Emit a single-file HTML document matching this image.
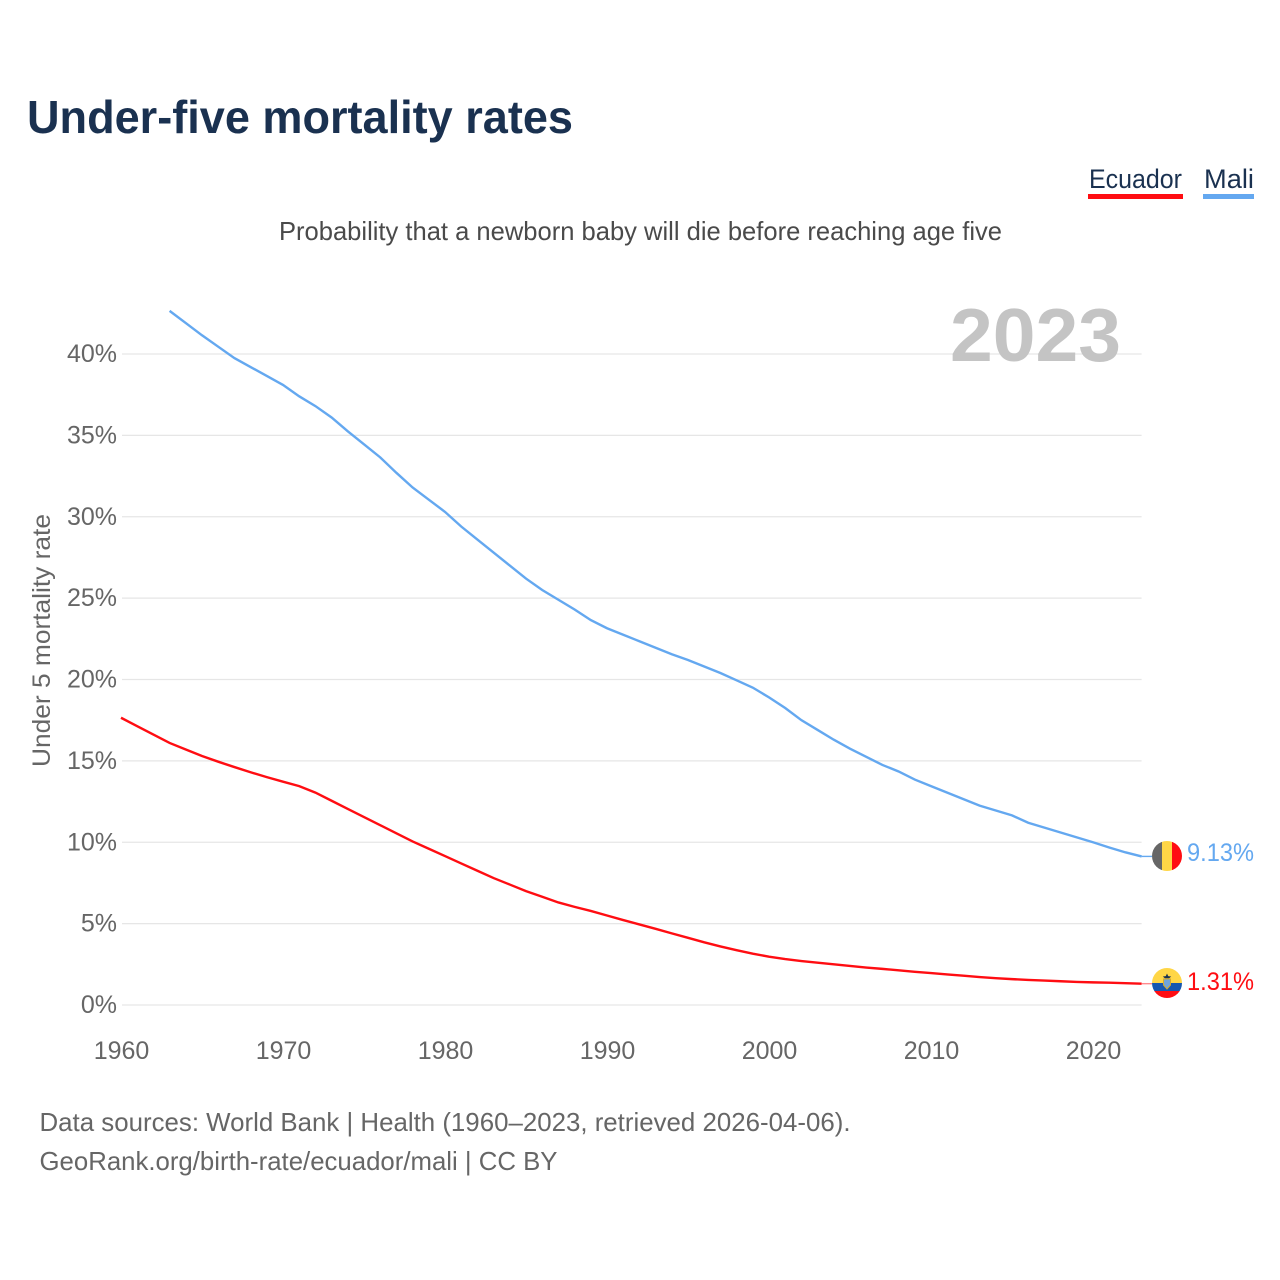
<!DOCTYPE html>
<html lang="en">
<head>
<meta charset="utf-8">
<title>Under-five mortality rates</title>
<style>
html,body{margin:0;padding:0;background:#fff;width:1280px;height:1280px;overflow:hidden}
svg{display:block}
text{font-family:"Liberation Sans",sans-serif}
</style>
</head>
<body>
<svg id="chart" xmlns="http://www.w3.org/2000/svg" width="1280" height="1280" viewBox="0 0 1280 1280">
  <rect width="1280" height="1280" fill="#ffffff"/>
  <text x="27" y="133" font-size="46" font-weight="700" fill="#1a3150" textLength="546" lengthAdjust="spacingAndGlyphs">Under-five mortality rates</text>
  <g>
    <text x="1089" y="188" font-size="27" fill="#1a3150" textLength="93" lengthAdjust="spacingAndGlyphs">Ecuador</text>
    <rect x="1088" y="194" width="95" height="5" fill="#ff0d12"/>
  </g>
  <g>
    <text x="1204" y="188" font-size="27" fill="#1a3150" textLength="50" lengthAdjust="spacingAndGlyphs">Mali</text>
    <rect x="1203" y="194" width="51" height="5" fill="#64a8f0"/>
  </g>
  <text x="279" y="240" font-size="26" fill="#4a4a4a" textLength="723" lengthAdjust="spacingAndGlyphs">Probability that a newborn baby will die before reaching age five</text>
  <g id="grid"></g>
  <text x="950" y="361" font-size="75" font-weight="700" fill="#c4c4c4" textLength="171" lengthAdjust="spacingAndGlyphs">2023</text>
  <g id="yticks"></g>
  <g id="xticks"></g>
  <text transform="translate(50,767) rotate(-90)" x="0" y="0" font-size="25" fill="#666666" textLength="253" lengthAdjust="spacingAndGlyphs">Under 5 mortality rate</text>
  <g id="series"></g>
  <defs>
    <clipPath id="flag-clip-mali"><circle id="clip-mali" cx="1167" cy="856" r="15"/></clipPath>
    <clipPath id="flag-clip-ecuador"><circle id="clip-ecuador" cx="1167" cy="983" r="15"/></clipPath>
  </defs>
  <g id="flag-mali">
    <g clip-path="url(#flag-clip-mali)">
      <rect x="1152" y="841" width="10" height="30" fill="#666666"/>
      <rect x="1162" y="841" width="10" height="30" fill="#ffd646"/>
      <rect x="1172" y="841" width="10" height="30" fill="#ff0d12"/>
    </g>
  </g>
  <g id="flag-ecuador">
    <g clip-path="url(#flag-clip-ecuador)">
      <rect x="1152" y="968" width="30" height="15" fill="#ffd646"/>
      <rect x="1152" y="983" width="30" height="8" fill="#1657b0"/>
      <rect x="1152" y="991" width="30" height="7" fill="#ff0d12"/>
      <path d="M1163.5 979h7v6l-3.500 4l-3.500-4z" fill="#6fa4dc" stroke="#d6a92c" stroke-width="1"/>
      <path d="M1167 973.500l1.200 2.600 3 .4-2 1.700h-4.400l-2-1.700 3-.4z" fill="#1a3150"/>
    </g>
  </g>
  <text id="value-mali" x="1187" y="861" font-size="25" fill="#64a8f0" textLength="67" lengthAdjust="spacingAndGlyphs"></text>
  <text id="value-ecuador" x="1187" y="990" font-size="25" fill="#ff0d12" textLength="67" lengthAdjust="spacingAndGlyphs"></text>
  <text x="39.500" y="1131" font-size="26" fill="#666666" textLength="811" lengthAdjust="spacingAndGlyphs">Data sources: World Bank | Health (1960–2023, retrieved 2026-04-06).</text>
  <text x="39.500" y="1170" font-size="26" fill="#666666" textLength="518" lengthAdjust="spacingAndGlyphs">GeoRank.org/birth-rate/ecuador/mali | CC BY</text>
</svg>
<script>
const startYear = 1960;
const yTickValues = [0, 5, 10, 15, 20, 25, 30, 35, 40];
const xTickValues = [1960, 1970, 1980, 1990, 2000, 2010, 2020];
const ecuadorValues = [17.65,17.13,16.62,16.1,15.7,15.3,14.95,14.62,14.3,14.0,13.72,13.45,13.05,12.55,12.05,11.55,11.05,10.55,10.05,9.6,9.15,8.7,8.25,7.8,7.4,7.0,6.65,6.3,6.03,5.78,5.5,5.22,4.95,4.68,4.4,4.13,3.85,3.6,3.37,3.15,2.97,2.82,2.7,2.6,2.5,2.4,2.3,2.22,2.13,2.04,1.96,1.88,1.8,1.72,1.65,1.59,1.54,1.5,1.46,1.42,1.39,1.37,1.34,1.31];
const maliValues = [null,null,null,42.65,41.9,41.15,40.45,39.75,39.2,38.65,38.1,37.4,36.8,36.1,35.25,34.45,33.65,32.7,31.8,31.05,30.3,29.4,28.6,27.8,27.0,26.2,25.5,24.9,24.3,23.65,23.15,22.75,22.35,21.95,21.55,21.2,20.8,20.4,19.95,19.5,18.9,18.25,17.5,16.9,16.3,15.75,15.25,14.75,14.35,13.85,13.45,13.05,12.65,12.25,11.95,11.65,11.2,10.9,10.6,10.3,10.0,9.68,9.38,9.13];

const NS = 'http://www.w3.org/2000/svg';
const xScale = function (year) { return 121 + (year - 1960) * 16.2; };
const yScale = function (pct) { return 1005 - pct * 16.275; };

function svgEl(tag, parent) {
  const el = document.createElementNS(NS, tag);
  parent.appendChild(el);
  return el;
}

const grid = document.getElementById('grid');
const yticks = document.getElementById('yticks');
yTickValues.forEach(function (v) {
  const line = svgEl('line', grid);
  
  
  line.setAttribute('x1', 122);
  line.setAttribute('x2', xScale(2023));
  line.setAttribute('y1', yScale(v));
  line.setAttribute('y2', yScale(v));
  line.setAttribute('stroke', '#e6e6e6');
  line.setAttribute('stroke-width', '1.2');
  const label = svgEl('text', yticks);
  
  
  label.setAttribute('x', 117);
  label.setAttribute('y', yScale(v) + 8);
  label.setAttribute('text-anchor', 'end');
  label.setAttribute('font-size', '25');
  label.setAttribute('fill', '#666666');
  label.textContent = v + '%';
});

const xticks = document.getElementById('xticks');
xTickValues.forEach(function (year) {
  const label = svgEl('text', xticks);
  
  
  label.setAttribute('x', xScale(year) + 0.5);
  label.setAttribute('y', 1059);
  label.setAttribute('text-anchor', 'middle');
  label.setAttribute('font-size', '25');
  label.setAttribute('fill', '#666666');
  label.textContent = String(year);
});

function pathFrom(values) {
  let d = '';
  values.forEach(function (v, i) {
    if (v === null) return;
    d += (d ? 'L' : 'M') + xScale(startYear + i).toFixed(2) + ' ' + yScale(v).toFixed(2);
  });
  return d;
}

const series = document.getElementById('series');

const ecuadorLine = svgEl('path', series);


ecuadorLine.setAttribute('d', pathFrom(ecuadorValues));
ecuadorLine.setAttribute('fill', 'none');
ecuadorLine.setAttribute('stroke', '#ff0d12');
ecuadorLine.setAttribute('stroke-width', '2.4');

const maliLine = svgEl('path', series);


maliLine.setAttribute('d', pathFrom(maliValues));
maliLine.setAttribute('fill', 'none');
maliLine.setAttribute('stroke', '#64a8f0');
maliLine.setAttribute('stroke-width', '2.4');

const lastEcuador = ecuadorValues[ecuadorValues.length - 1];
const lastMali = maliValues[maliValues.length - 1];

const ecuadorLeader = svgEl('line', series);


ecuadorLeader.setAttribute('x1', xScale(2023));
ecuadorLeader.setAttribute('x2', 1152);
ecuadorLeader.setAttribute('y1', yScale(lastEcuador));
ecuadorLeader.setAttribute('y2', yScale(lastEcuador));
ecuadorLeader.setAttribute('stroke', '#ff8a8d');
ecuadorLeader.setAttribute('stroke-width', '1.4');

const maliLeader = svgEl('line', series);


maliLeader.setAttribute('x1', xScale(2023));
maliLeader.setAttribute('x2', 1152);
maliLeader.setAttribute('y1', yScale(lastMali));
maliLeader.setAttribute('y2', yScale(lastMali));
maliLeader.setAttribute('stroke', '#64a8f0');
maliLeader.setAttribute('stroke-width', '1.4');

document.getElementById('value-mali').textContent = lastMali.toFixed(2) + '%';
document.getElementById('value-ecuador').textContent = lastEcuador.toFixed(2) + '%';
</script>
</body>
</html>
